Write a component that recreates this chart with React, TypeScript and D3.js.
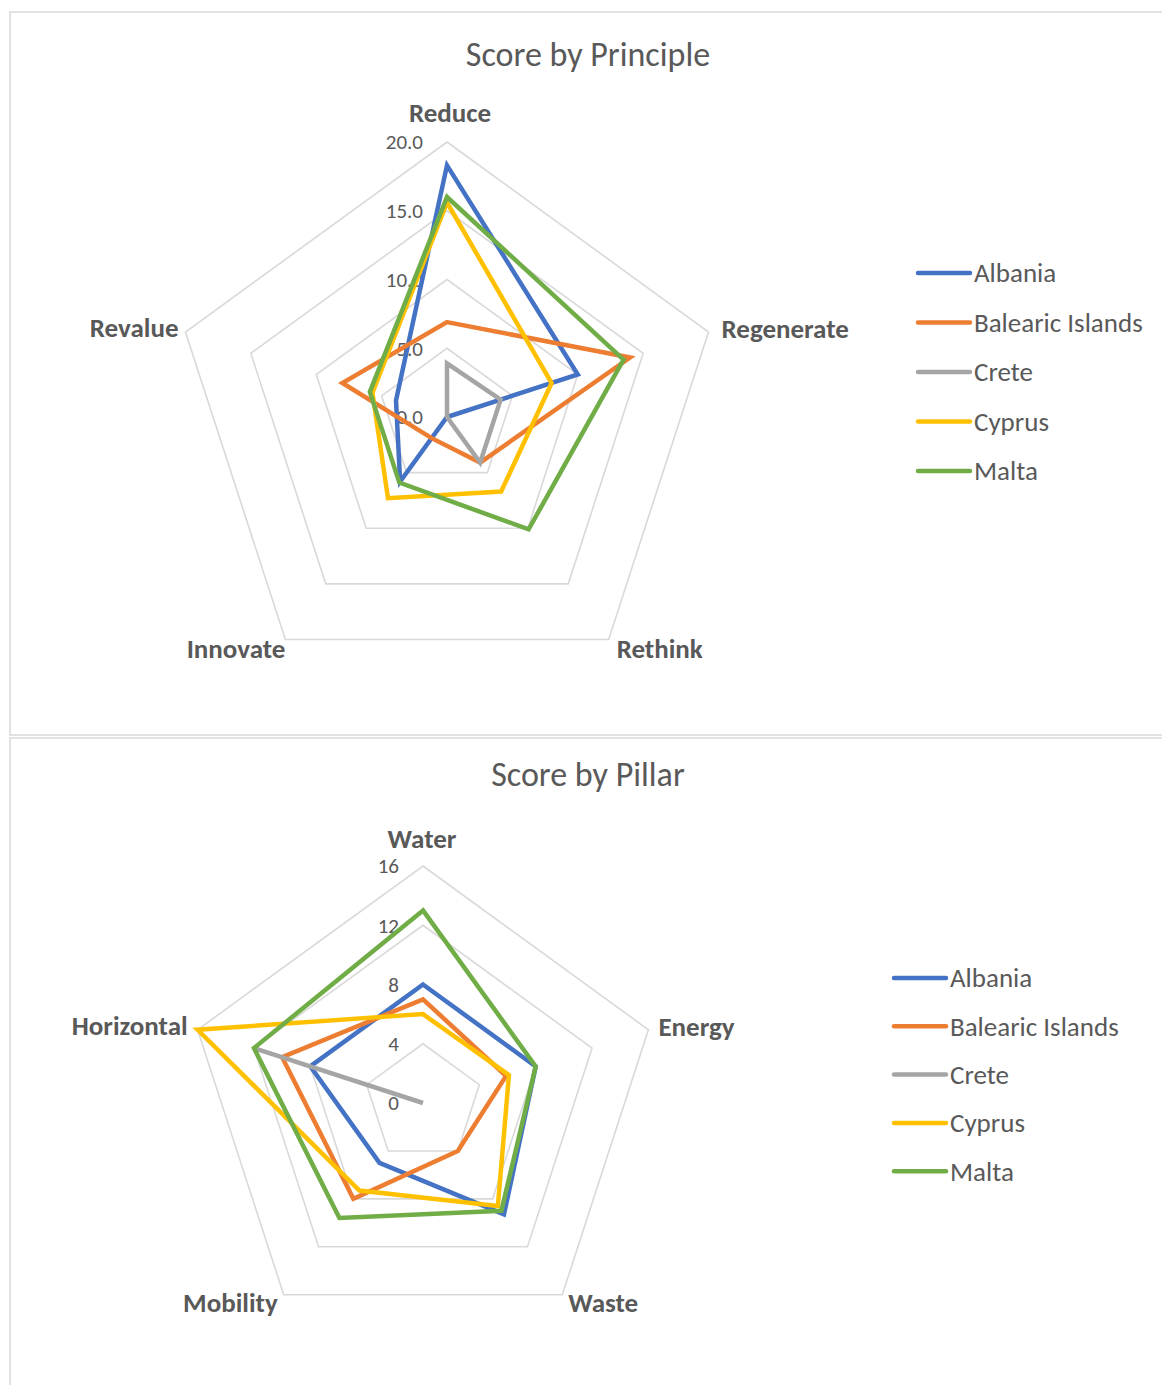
import React, { useEffect } from 'react';
import * as d3 from 'd3';

const countries = ["Albania", "Balearic Islands", "Crete", "Cyprus", "Malta"];
const colors = ["#4472C4", "#ED7D31", "#A5A5A5", "#FFC000", "#70AD47"];

const principles = ["Reduce", "Regenerate", "Rethink", "Innovate", "Revalue"];
const principleTicks = [0, 5, 10, 15, 20];
const albaniaPrinciple = [18.3, 10.0, 0, 5.8, 3.9];
const balearicPrinciple = [6.9, 14.0, 4.1, 1.9, 8.0];
const cretePrinciple = [3.9, 4.1, 4.1, 0, 0];
const cyprusPrinciple = [15.6, 8.0, 6.7, 7.3, 5.7];
const maltaPrinciple = [16.0, 13.5, 10.1, 5.9, 5.9];

const pillars = ["Water", "Energy", "Waste", "Mobility", "Horizontal"];
const pillarTicks = [0, 4, 8, 12, 16];
const albaniaPillar = [8, 8, 9.3, 5, 8];
const balearicPillar = [7, 5.9, 4, 8, 10];
const cretePillar = [0, 0, 0, 0, 12];
const cyprusPillar = [6, 6.1, 8.6, 7.3, 16];
const maltaPillar = [13, 8, 9, 9.6, 12];

const FONT = "Carlito, 'Open Sans', 'Noto Sans', sans-serif";
const TEXT = "#595959";

interface RadarProps {
  title: string;
  top: number;
  height: number;
  titleY: number;
  cx: number;
  cy: number;
  radius: number;
  axes: string[];
  ticks: number[];
  tickFormat: (v: number) => string;
  series: number[][];
  legendX: number;
  legendY: number;
  legendGap: number;
  labelOffsets: { dx: number; dy: number; anchor: string }[];
}

const Radar: React.FC<RadarProps> = (p) => {
  const n = p.axes.length;
  const angle = d3.scaleLinear().domain([0, n]).range([0, 2 * Math.PI]);
  const r = d3.scaleLinear().domain([0, p.ticks[p.ticks.length - 1]]).range([0, p.radius]);
  const line = d3.lineRadial<number>()
    .angle((_, i) => angle(i))
    .radius(d => r(d))
    .curve(d3.curveLinearClosed);
  const pt = (i: number, v: number) => [
    Math.sin(angle(i)) * r(v),
    -Math.cos(angle(i)) * r(v),
  ];
  const maxV = p.ticks[p.ticks.length - 1];

  return (
    <g>
      <rect x={10} y={p.top} width={1170} height={p.height} fill="white" stroke="#d9d9d9" strokeWidth={1.5} />
      <text x={588} y={p.titleY} dy="0.35em" textAnchor="middle" fontFamily={FONT} fontSize={34} fill={TEXT}>{p.title}</text>
      <g transform={`translate(${p.cx},${p.cy})`}>
        {/* grid rings */}
        {p.ticks.slice(1).map(t => (
          <path key={t} d={line(p.axes.map(() => t)) || ""} fill="none" stroke="#d9d9d9" strokeWidth={1.6} />
        ))}
        {/* tick labels */}
        {p.ticks.map(t => (
          <text key={t} x={-24} y={-r(t)} dy="0.35em" textAnchor="end" fontFamily={FONT} fontSize={21} fill={TEXT}>{p.tickFormat(t)}</text>
        ))}
        {/* axis labels */}
        {p.axes.map((a, i) => {
          const [x, y] = pt(i, maxV);
          const o = p.labelOffsets[i];
          return (
            <text key={a} x={x + o.dx} y={y + o.dy} dy="0.35em" textAnchor={o.anchor} fontFamily={FONT} fontSize={27} fontWeight="bold" fill={TEXT}>{a}</text>
          );
        })}
        {/* series */}
        {p.series.map((s, k) => (
          <path key={k} d={line(s) || ""} fill="none" stroke={colors[k]} strokeWidth={4.5} strokeLinejoin="miter" />
        ))}
      </g>
      {/* legend */}
      {countries.map((c, k) => (
        <g key={c} transform={`translate(${p.legendX},${p.legendY + k * p.legendGap})`}>
          <line x1={1} x2={53} y1={0} y2={0} stroke={colors[k]} strokeWidth={4.5} strokeLinecap="round" />
          <text x={57} y={0} dy="0.35em" fontFamily={FONT} fontSize={27} fill={TEXT}>{c}</text>
        </g>
      ))}
    </g>
  );
};

const App: React.FC = () => {
  useEffect(() => {
    document.body.style.margin = "0";
  }, []);

  return (
    <svg width={1162} height={1385} style={{ display: "block", background: "white" }}>
      <Radar
        title="Score by Principle"
        top={12}
        height={723}
        titleY={54}
        cx={447}
        cy={417}
        radius={275}
        axes={principles}
        ticks={principleTicks}
        tickFormat={d3.format(".1f")}
        series={[albaniaPrinciple, balearicPrinciple, cretePrinciple, cyprusPrinciple, maltaPrinciple]}
        legendX={917}
        legendY={273}
        legendGap={49.5}
        labelOffsets={[
          { dx: 3, dy: -29, anchor: "middle" },
          { dx: 13, dy: -3, anchor: "start" },
          { dx: 8, dy: 9, anchor: "start" },
          { dx: 0, dy: 9, anchor: "end" },
          { dx: -7, dy: -4, anchor: "end" },
        ]}
      />
      <Radar
        title="Score by Pillar"
        top={738}
        height={660}
        titleY={774}
        cx={423}
        cy={1103}
        radius={237}
        axes={pillars}
        ticks={pillarTicks}
        tickFormat={d3.format("d")}
        series={[albaniaPillar, balearicPillar, cretePillar, cyprusPillar, maltaPillar]}
        legendX={893}
        legendY={978}
        legendGap={48.3}
        labelOffsets={[
          { dx: -1, dy: -27, anchor: "middle" },
          { dx: 10, dy: -3, anchor: "start" },
          { dx: 6, dy: 8, anchor: "start" },
          { dx: -6, dy: 8, anchor: "end" },
          { dx: -10, dy: -4, anchor: "end" },
        ]}
      />
    </svg>
  );
};

export default App;
